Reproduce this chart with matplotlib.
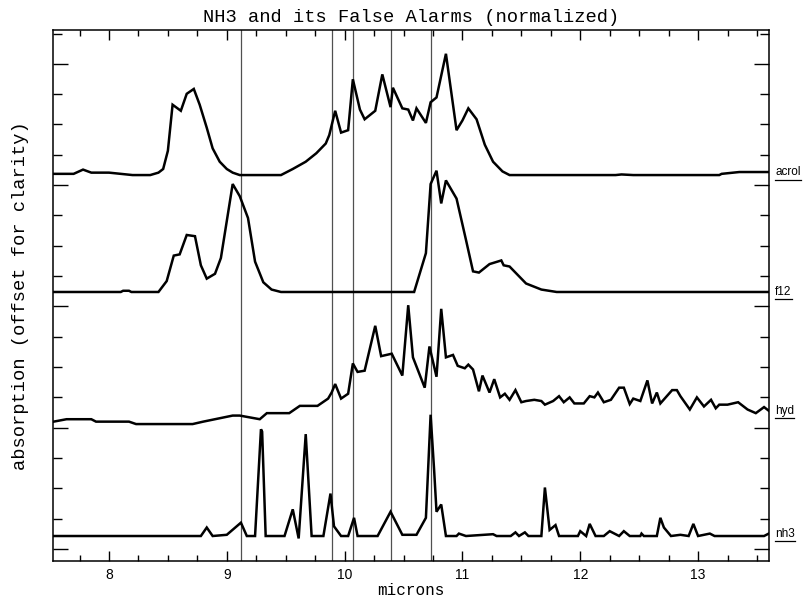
import matplotlib
matplotlib.use("Agg")
import matplotlib.pyplot as plt
from matplotlib.lines import Line2D
from matplotlib.transforms import IdentityTransform
from matplotlib.ticker import MultipleLocator

# ---------------- data (normalized absorption) -------------
acrol_x = [7.53, 7.70, 7.78, 7.85, 8.00, 8.10, 8.20, 8.35, 8.42, 8.46, 8.50, 8.54, 8.61,
           8.66, 8.72, 8.77, 8.83, 8.88, 8.94, 9.00, 9.05, 9.11, 9.46, 9.56, 9.67, 9.76,
           9.84, 9.87, 9.92, 9.97, 10.03, 10.07, 10.13, 10.17, 10.26, 10.32, 10.39, 10.41,
           10.49, 10.54, 10.58, 10.61, 10.69, 10.73, 10.78, 10.86, 10.95, 11.00, 11.05,
           11.12, 11.19, 11.26, 11.34, 11.40, 12.30, 12.35, 12.45, 13.18, 13.20, 13.35, 13.60]
acrol_y = [0.01, 0.01, 0.045, 0.02, 0.02, 0.01, 0.0, 0.0, 0.02, 0.05, 0.20, 0.58, 0.53,
           0.67, 0.71, 0.58, 0.39, 0.22, 0.11, 0.05, 0.02, 0.0, 0.0, 0.05, 0.11, 0.18,
           0.26, 0.33, 0.53, 0.35, 0.37, 0.79, 0.54, 0.46, 0.53, 0.83, 0.56, 0.72,
           0.55, 0.54, 0.45, 0.55, 0.43, 0.60, 0.64, 1.00, 0.37, 0.45, 0.55,
           0.46, 0.25, 0.11, 0.03, 0.0, 0.0, 0.005, 0.0, 0.0, 0.01, 0.025, 0.025]

f12_x = [7.53, 8.10, 8.12, 8.17, 8.19, 8.42, 8.49, 8.55, 8.60, 8.66, 8.73, 8.78, 8.83,
         8.90, 8.95, 9.05, 9.11, 9.18, 9.24, 9.31, 9.38, 9.46, 10.59, 10.69, 10.73, 10.78,
         10.82, 10.86, 10.95, 11.03, 11.09, 11.14, 11.23, 11.33, 11.35, 11.40, 11.54,
         11.67, 11.80, 13.60]
f12_y = [0.0, 0.0, 0.01, 0.01, 0.0, 0.0, 0.09, 0.30, 0.31, 0.47, 0.46, 0.22, 0.11,
         0.15, 0.28, 0.89, 0.79, 0.61, 0.25, 0.08, 0.02, 0.0, 0.0, 0.32, 0.89, 1.00,
         0.73, 0.92, 0.77, 0.43, 0.17, 0.16, 0.23, 0.26, 0.22, 0.21, 0.07,
         0.02, 0.0, 0.0]

hyd_x = [7.53, 7.64, 7.85, 7.89, 8.17, 8.23, 8.71, 8.80, 9.05, 9.11, 9.28, 9.34, 9.53,
         9.62, 9.77, 9.86, 9.89, 9.92, 9.97, 10.03, 10.07, 10.11, 10.17, 10.26, 10.31,
         10.40, 10.49, 10.54, 10.58, 10.68, 10.72, 10.78, 10.82, 10.86, 10.92, 10.96,
         11.02, 11.05, 11.09, 11.14, 11.17, 11.23, 11.27, 11.32, 11.36, 11.40, 11.45,
         11.50, 11.54, 11.61, 11.67, 11.70, 11.77, 11.82, 11.86, 11.91, 11.95, 12.03,
         12.08, 12.12, 12.15, 12.20, 12.26, 12.33, 12.37, 12.42, 12.45, 12.51, 12.57,
         12.61, 12.65, 12.68, 12.78, 12.82, 12.85, 12.93, 12.99, 13.05, 13.11, 13.15,
         13.18, 13.25, 13.34, 13.42, 13.49, 13.56, 13.60]
hyd_y = [0.02, 0.04, 0.04, 0.02, 0.02, 0.0, 0.0, 0.02, 0.07, 0.07, 0.04, 0.09, 0.09,
         0.15, 0.15, 0.21, 0.26, 0.33, 0.21, 0.25, 0.50, 0.43, 0.44, 0.81, 0.56,
         0.58, 0.40, 0.98, 0.55, 0.30, 0.64, 0.39, 0.95, 0.55, 0.57, 0.48,
         0.46, 0.49, 0.45, 0.27, 0.40, 0.26, 0.37, 0.22, 0.25, 0.20, 0.28,
         0.18, 0.19, 0.20, 0.19, 0.16, 0.19, 0.23, 0.18, 0.22, 0.17, 0.17,
         0.23, 0.22, 0.26, 0.18, 0.20, 0.30, 0.30, 0.165, 0.21, 0.19, 0.36,
         0.17, 0.26, 0.17, 0.28, 0.28, 0.23, 0.12, 0.22, 0.145, 0.20, 0.13,
         0.16, 0.16, 0.18, 0.12, 0.09, 0.14, 0.11]

nh3_x = [7.53, 8.78, 8.83, 8.88, 9.00, 9.12, 9.17, 9.24, 9.29, 9.30, 9.33, 9.49, 9.56,
         9.61, 9.67, 9.72, 9.82, 9.88, 9.91, 9.97, 10.03, 10.08, 10.11, 10.28, 10.39,
         10.49, 10.61, 10.69, 10.73, 10.76, 10.78, 10.82, 10.86, 10.95, 10.97, 11.03,
         11.26, 11.29, 11.41, 11.45, 11.48, 11.53, 11.56, 11.67, 11.70, 11.74, 11.79,
         11.82, 11.98, 12.00, 12.05, 12.08, 12.13, 12.20, 12.25, 12.33, 12.37, 12.42,
         12.51, 12.52, 12.54, 12.65, 12.68, 12.71, 12.77, 12.85, 12.92, 12.96, 13.00,
         13.10, 13.14, 13.56, 13.60]
nh3_y = [0.0, 0.0, 0.07, 0.0, 0.01, 0.11, 0.0, 0.0, 0.88, 0.86, 0.0, 0.0, 0.22,
         -0.02, 0.84, 0.0, 0.0, 0.35, 0.08, 0.0, 0.0, 0.15, 0.0, 0.0, 0.20,
         0.01, 0.01, 0.15, 1.00, 0.54, 0.20, 0.26, 0.0, 0.0, 0.02, 0.0,
         0.015, 0.0, 0.0, 0.03, 0.0, 0.03, 0.0, 0.0, 0.40, 0.05, 0.09,
         0.0, 0.0, 0.04, 0.0, 0.10, 0.0, 0.0, 0.04, 0.0, 0.04, 0.0,
         0.0, 0.02, 0.0, 0.0, 0.15, 0.07, 0.0, 0.01, 0.0, 0.10, 0.0,
         0.02, 0.0, 0.0, 0.02]

names = ["acrol", "f12", "hyd", "nh3"]
offsets = [3.083, 2.119, 1.03, 0.107]
marker_lines = [9.12, 9.895, 10.075, 10.39, 10.735]
xtick_values = [8, 9, 10, 11, 12, 13]

# ---------------- figure ----------------
mono = "Liberation Mono"
sans = "Liberation Sans"

fig = plt.figure(figsize=(8.05, 5.98), dpi=100)
ax = fig.add_axes([53 / 805, 37 / 598, 716 / 805, 531 / 598])

for xv in marker_lines:
    ax.axvline(xv, color="#505050", lw=0.9, zorder=1)

series = [(acrol_x, acrol_y), (f12_x, f12_y), (hyd_x, hyd_y), (nh3_x, nh3_y)]
for (xs, ys), off in zip(series, offsets):
    ax.plot(xs, [v + off for v in ys], color="black", lw=1.8, zorder=3,
            solid_joinstyle="miter")

ax.set_xlim(7.525, 13.602)
ax.set_ylim(-0.099, 4.279)

ax.set_xticks(xtick_values)
ax.set_xticklabels([str(v) for v in xtick_values], fontfamily=sans, fontsize=10)
ax.xaxis.set_minor_locator(MultipleLocator(0.25))
ax.yaxis.set_major_locator(MultipleLocator(1.0))
ax.yaxis.set_minor_locator(MultipleLocator(0.25))
ax.set_yticklabels([])

ax.tick_params(axis="x", which="major", direction="in", length=7.2, width=1.0,
               top=True, bottom=True, pad=5)
ax.tick_params(axis="x", which="minor", direction="in", length=4.0, width=1.0,
               top=True, bottom=True)
ax.tick_params(axis="y", which="major", direction="in", length=11.0, width=1.0,
               left=True, right=True, labelleft=False)
ax.tick_params(axis="y", which="minor", direction="in", length=6.2, width=1.0,
               left=True, right=True)
for sp in ax.spines.values():
    sp.set_linewidth(1.1)

ax.set_title("NH3 and its False Alarms (normalized)", fontfamily=mono,
             fontsize=13.5, pad=6)
ax.set_xlabel("microns", fontfamily=mono, fontsize=11.5, labelpad=1)
ax.set_ylabel("absorption (offset for clarity)", fontfamily=mono, fontsize=13.5,
              labelpad=14)

labels = []
for name, (xs, ys), off in zip(names, series, offsets):
    t = ax.annotate(name, xy=(1.0, ys[-1] + off), xycoords=("axes fraction", "data"),
                    xytext=(4.5, 0), textcoords="offset points", ha="left",
                    va="center", fontfamily=sans, fontsize=8.5, annotation_clip=False)
    labels.append(t)

fig.canvas.draw()
renderer = fig.canvas.get_renderer()
for t in labels:
    bb = t.get_window_extent(renderer)
    yc = (bb.y0 + bb.y1) / 2.0 - 7.5
    fig.add_artist(Line2D([bb.x0, bb.x1], [yc, yc], transform=IdentityTransform(),
                          color="black", lw=0.9))

fig.savefig("out.png", dpi=100)
